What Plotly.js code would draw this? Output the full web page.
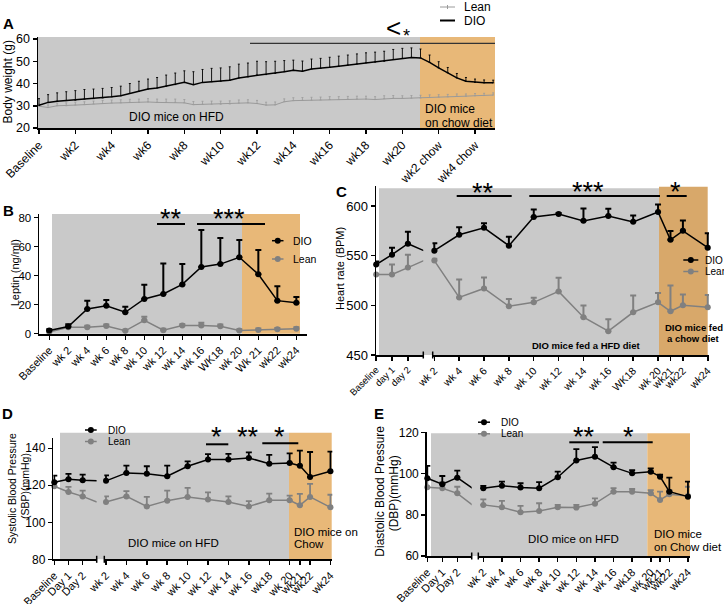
<!DOCTYPE html>
<html><head><meta charset="utf-8">
<script src="https://cdn.plot.ly/plotly-3.0.1.min.js"></script>
<style>html,body{margin:0;padding:0;background:#fff}#chart{width:724px;height:604px}</style>
</head><body><div id="chart"></div>
<script>
// ---------------- Panel A: body weight ----------------
const aWeek = [0,0.5,1,1.5,2,2.5,3,3.5,4,4.5,5,5.5,6,6.5,7,7.5,8,8.5,9,9.5,10,10.5,11,11.5,12,12.5,13,13.5,14,14.5,15,15.5,16,16.5,17,17.5,18,18.5,19,19.5,20,20.5,21,21.5,22,22.5,23,23.5,24,24.5,25];
const aDioMean = [30.2,31.5,32,32.3,32.5,33,33.2,33.5,34,34.5,35.5,36.5,37.5,38,38.8,39.5,40.5,39.5,40.5,40.8,41,41.5,42.5,43,43.8,44,44.5,45.3,46,45.5,46.5,46.8,47.3,47.8,48.3,48.8,49.3,49.6,50,50.8,51.3,51.7,51.5,49.5,47,44.8,42.5,41,40.5,40.3,40.3];
const aDioSem = [3,3.5,3.8,4,4.3,4.3,4.3,4.3,4.2,4.3,4.5,4.5,4.5,4.7,5,5.2,5.2,5.8,5.8,6,6,6,6.2,6.2,6.2,5.8,5.5,5,4.5,4.6,4.5,4.5,4.5,4.5,4.5,4.5,4.5,4.5,4.5,4.5,4.5,4.3,4,3.3,2.8,2.4,2,1.7,1.5,1.3,1.2];
const aLeanMean = [29.8,29.2,30,30,30.3,30.5,30.8,31,31.2,31.3,31.5,31.5,31.7,31.5,31.5,31.5,31.3,30.5,30.6,30.7,30.7,30.8,31.2,31.3,31,30.3,30.4,31.8,32.3,32.4,32.5,32.6,32.8,32.8,32.9,33,33,32.8,33.2,33.3,33.3,33.4,33.5,33.7,33.9,34,34.2,34.3,34.5,34.6,34.8];
const aLeanSem = [1,1.2,1.2,1.3,1.3,1.3,1.3,1.4,1.4,1.4,1.4,1.5,1.5,1.5,1.5,1.5,1.5,1.4,1.4,1.4,1.4,1.4,1.4,1.4,1.4,1.3,1.3,1.3,1.3,1.3,1.3,1.3,1.3,1.3,1.3,1.3,1.3,1.3,1.3,1.3,1.2,1.2,1.2,1.2,1.1,1.1,1.1,1,1,1,1];
const aTickWeek = [0,2,4,6,8,10,12,14,16,18,20,22,24];
const aTickText = ['Baseline','wk2','wk4','wk6','wk8','wk10','wk12','wk14','wk16','wk18','wk20','wk2 chow','wk4 chow'];

// ---------------- Panel B: leptin ----------------
const bCats = ['Baseline','wk 2','wk 4','wk 6','wk 8','wk 10','wk 12','wk 14','wk 16','WK18','wk 20','Wk 21','wk22','wk24'];
const bDio = [2.2,5,17,19.2,14.8,24,27.4,34,46,48,52.7,41,22.8,21.4];
const bDioErr = [0.8,1.5,5.8,4,3.8,9.8,21,14,25.5,18,12,16.7,10,4];
const bLean = [1.2,4.4,4.5,5.3,2,9.2,2.4,5.6,5.6,5.2,2.2,2.6,3,3.4];
const bLeanErr = [0.5,1,1,1,0.8,2.5,1,1,2,1.2,0.8,1,1,1];

// ---------------- Panel C: heart rate ----------------
const cEarlyCats = ['Baseline','day 1','day 2'];
const cWeeks = [2,4,6,8,10,12,14,16,18,20,21,22,24];
const cWeekText = ['wk 2','wk 4','wk 6','wk 8','wk 10','wk 12','wk 14','wk 16','WK18','wk 20','wk21','wk22','wk24'];
const cDioEarly = [541,551,562];
const cDioEarlyErr = [3,7,12];
const cDioWk = [555,571,578,560,589,592,585,590,584,594,566,575,558];
const cDioWkErr = [7.5,7.7,4.7,9,7.4,1,12.4,7.3,6.4,7.4,8.8,10.5,14.6];
const cLeanEarly = [531,531,538];
const cLeanEarlyErr = [0.5,10,13];
const cLeanWk = [545,508,517,499,503,514,488,474,493,503,494,500,498];
const cLeanWkErr = [2,18,11,7.4,4.7,13.8,11.7,12,16.8,9.3,26,11,12.4];

// ---------------- Panel D: systolic BP ----------------
const dEarlyCats = ['Baseline','Day 1','Day 2'];
const dWeeks = [2,4,6,8,10,12,14,16,18,20,21,22,24];
const dWeekText = ['wk 2','wk 4','wk 6','wk 8','wk 10','wk 12','wk 14','wk 16','wk18','wk 20','wk21','wk22','wk24'];
const dDioEarly = [121.6,123.3,122.7];
const dDioEarlyErr = [3.6,2.9,3.1];
const dDioWk = [122.4,126.7,126.3,124.9,130.3,133.9,133.9,134.8,131.7,132.1,130.6,124.5,127.6];
const dDioWkErr = [3,3.9,4,5.7,2.6,2.9,3.1,3,4.7,5.2,8.1,13.5,10.6];
const dLeanEarly = [119.5,116.4,114];
const dLeanEarlyErr = [2.1,2.7,3.1];
const dLeanWk = [111,114,108.6,111.7,113.7,112.3,111,108.6,111.9,111.9,109.2,113.7,108.1];
const dLeanWkErr = [3,2.8,5.1,5.4,4.9,3.9,3,2.8,3.6,2.5,6.2,7.1,6.8];

// ---------------- Panel E: diastolic BP ----------------
const eEarlyCats = ['Baseline','Day 1','Day 2'];
const eWeeks = [2,4,6,8,10,12,14,16,18,20,21,22,24];
const eWeekText = ['wk 2','wk 4','wk 6','wk 8','wk 10','wk 12','wk 14','wk 16','wk18','wk 20','wk21','wk22','wk24'];
const eDioEarly = [97.7,94.8,98];
const eDioEarlyErr = [6,4,3.4];
const eDioWk = [92.9,94.1,93.2,92.9,98.2,106.3,108.2,103.1,100.1,100.9,98.5,91.2,88.8];
const eDioWkErr = [1.1,2,2.1,2.9,2.7,5.5,4.6,2.2,1.6,1.6,1,6.8,7.3];
const eLeanEarly = [93.3,92.9,90.4];
const eLeanEarlyErr = [3.9,2.9,3.2];
const eLeanWk = [84.8,83.6,81.2,81.8,83.6,83.5,85.4,91.2,91.2,90.4,87.2,89.9,89.1];
const eLeanWkErr = [2.7,3.1,3.1,3.8,1.2,1.3,2.6,1.7,1.3,1.6,4,2.1,4.5];

// ================= drawing =================
const W = 724, H = 604;
const FONT = 'Arial, "Liberation Sans", Helvetica, sans-serif';
const BLACK = '#000000', GREY = '#808080', GREY_A = '#9a9a9a';
const BG_GREY = '#c9c9c9', BG_ORANGE = '#e8b878', BG_ORANGE_C = '#d8a86a';
const fx = x => x / W, fy = y => 1 - y / H;

function errUp(arr, color, th, w) {
  return {type:'data', symmetric:false, array:arr, arrayminus:arr.map(() => 0), color:color, thickness:th, width:w, visible:true};
}
function xAx(l, r, anchor, extra) {
  return Object.assign({domain:[fx(l), fx(r)], anchor:anchor, showline:true, linecolor:BLACK, linewidth:1.5,
    ticks:'outside', ticklen:4, tickwidth:1.5, tickcolor:BLACK, showgrid:false, zeroline:false,
    tickangle:-45, fixedrange:true, tickfont:{size:11, color:BLACK, family:FONT}}, extra);
}
function yAx(bottom, top, anchor, extra) {
  return Object.assign({domain:[fy(bottom), fy(top)], anchor:anchor, showline:true, linecolor:BLACK, linewidth:1.5,
    ticks:'outside', ticklen:4, tickwidth:1.5, tickcolor:BLACK, showgrid:false, zeroline:false,
    fixedrange:true, tickfont:{size:12, color:BLACK, family:FONT}}, extra);
}

const traces = [];
// Panel A
traces.push({x:aWeek, y:aLeanMean, xaxis:'x', yaxis:'y', mode:'lines', name:'Lean',
  line:{color:GREY_A, width:1}, error_y:errUp(aLeanSem, GREY_A, 0.8, 1)});
traces.push({x:aWeek, y:aDioMean, xaxis:'x', yaxis:'y', mode:'lines', name:'DIO',
  line:{color:BLACK, width:1.5}, error_y:errUp(aDioSem, BLACK, 0.9, 1)});
// Panel B
traces.push({x:bCats, y:bLean, xaxis:'x2', yaxis:'y2', mode:'lines+markers', name:'Lean', cliponaxis:false,
  line:{color:GREY, width:1.5}, marker:{color:GREY, size:6}, error_y:errUp(bLeanErr, GREY, 2, 3)});
traces.push({x:bCats, y:bDio, xaxis:'x2', yaxis:'y2', mode:'lines+markers', name:'DIO', cliponaxis:false,
  line:{color:BLACK, width:1.5}, marker:{color:BLACK, size:6}, error_y:errUp(bDioErr, BLACK, 2, 3)});

function broken(p) {
  const line = {color:p.color, width:1.5};
  const mk = {color:p.color, size:p.ms};
  return [
    {x:p.earlyCats.concat([p.weekText[0]]), y:p.early.concat([p.wk[0]]), xaxis:p.xa1, yaxis:p.ya,
     mode:'lines', line:line, name:p.name, hoverinfo:'skip'},
    {x:p.earlyCats, y:p.early, xaxis:p.xa1, yaxis:p.ya, mode:'markers', marker:mk, name:p.name,
     cliponaxis:false, error_y:errUp(p.earlyErr, p.color, p.th, p.ew)},
    {x:p.weeks, y:p.wk, xaxis:p.xa2, yaxis:p.ya, mode:'lines+markers', line:line, marker:mk, name:p.name,
     cliponaxis:false, error_y:errUp(p.wkErr, p.color, p.th, p.ew)}
  ];
}
// Panel C
traces.push(...broken({name:'Lean', color:GREY, early:cLeanEarly, earlyErr:cLeanEarlyErr, wk:cLeanWk, wkErr:cLeanWkErr,
  earlyCats:cEarlyCats, weeks:cWeeks, weekText:cWeekText, xa1:'x3', xa2:'x4', ya:'y3', ms:6, th:2, ew:3}));
traces.push(...broken({name:'DIO', color:BLACK, early:cDioEarly, earlyErr:cDioEarlyErr, wk:cDioWk, wkErr:cDioWkErr,
  earlyCats:cEarlyCats, weeks:cWeeks, weekText:cWeekText, xa1:'x3', xa2:'x4', ya:'y3', ms:6, th:2, ew:3}));
// Panel D
traces.push(...broken({name:'Lean', color:GREY, early:dLeanEarly, earlyErr:dLeanEarlyErr, wk:dLeanWk, wkErr:dLeanWkErr,
  earlyCats:dEarlyCats, weeks:dWeeks, weekText:dWeekText, xa1:'x5', xa2:'x6', ya:'y4', ms:6, th:1.8, ew:3}));
traces.push(...broken({name:'DIO', color:BLACK, early:dDioEarly, earlyErr:dDioEarlyErr, wk:dDioWk, wkErr:dDioWkErr,
  earlyCats:dEarlyCats, weeks:dWeeks, weekText:dWeekText, xa1:'x5', xa2:'x6', ya:'y4', ms:6, th:1.8, ew:3}));
// Panel E
traces.push(...broken({name:'Lean', color:GREY, early:eLeanEarly, earlyErr:eLeanEarlyErr, wk:eLeanWk, wkErr:eLeanWkErr,
  earlyCats:eEarlyCats, weeks:eWeeks, weekText:eWeekText, xa1:'x7', xa2:'x8', ya:'y5', ms:6, th:1.8, ew:3}));
traces.push(...broken({name:'DIO', color:BLACK, early:eDioEarly, earlyErr:eDioEarlyErr, wk:eDioWk, wkErr:eDioWkErr,
  earlyCats:eEarlyCats, weeks:eWeeks, weekText:eWeekText, xa1:'x7', xa2:'x8', ya:'y5', ms:6, th:1.8, ew:3}));

// shapes
const shapes = [];
function rect(x0, y0, x1, y1, fill) {
  shapes.push({type:'rect', xref:'paper', yref:'paper', x0:fx(x0), x1:fx(x1), y0:fy(y1), y1:fy(y0),
    fillcolor:fill, line:{width:0}, layer:'below'});
}
function seg(x0, y0, x1, y1, color, width) {
  shapes.push({type:'line', xref:'paper', yref:'paper', x0:fx(x0), x1:fx(x1), y0:fy(y0), y1:fy(y1),
    line:{color:color, width:width}, layer:'above'});
}
function dot(cx, cy, r, color) {
  shapes.push({type:'circle', xref:'paper', yref:'paper', x0:fx(cx - r), x1:fx(cx + r), y0:fy(cy + r), y1:fy(cy - r),
    fillcolor:color, line:{width:0}, layer:'above'});
}
// backgrounds
rect(38, 37, 420, 128, BG_GREY);   rect(420, 37, 495, 128, BG_ORANGE);
rect(52, 214, 242, 333.7, BG_GREY); rect(242, 214, 300, 333.7, BG_ORANGE);
rect(379, 188.3, 659, 355, BG_GREY); rect(659, 186.7, 707.7, 355, BG_ORANGE_C);
rect(60, 432.7, 289, 559.3, BG_GREY); rect(289, 432.7, 331.7, 559.3, BG_ORANGE);
rect(431, 433.3, 647.3, 556, BG_GREY); rect(647.3, 433.3, 690, 556, BG_ORANGE);
// significance bars
seg(250, 43.3, 495, 43.3, '#333333', 1.2);
seg(157, 224, 185, 224, BLACK, 2); seg(197, 224, 265, 224, BLACK, 2);
seg(456.7, 196, 511.7, 196, BLACK, 2); seg(529.3, 196, 660, 196, BLACK, 2); seg(666.7, 196, 686.7, 196, BLACK, 2);
seg(206, 444.3, 228.3, 444.3, BLACK, 2); seg(262.3, 443.3, 298.3, 443.3, BLACK, 2);
seg(569.3, 442.3, 599, 442.3, BLACK, 2); seg(602.7, 442.3, 652.7, 442.3, BLACK, 2);
// axis break marks
seg(423.3, 351.5, 423.3, 358.5, BLACK, 1.5); seg(432.7, 351.5, 432.7, 358.5, BLACK, 1.5);
seg(96.7, 555.8, 96.7, 562.8, BLACK, 1.5); seg(104.3, 555.8, 104.3, 562.8, BLACK, 1.5);
seg(471.7, 552.5, 471.7, 559.5, BLACK, 1.5); seg(478.3, 552.5, 478.3, 559.5, BLACK, 1.5);

// annotations
const ann = [];
function txt(text, x, y, size, opts) {
  opts = opts || {};
  ann.push({text:text, x:fx(x), y:fy(y), xref:'paper', yref:'paper', showarrow:false,
    xanchor:opts.xanchor || 'center', yanchor:'middle', textangle:opts.angle || 0,
    font:{size:size, color:BLACK, family:FONT}});
}
function stars(text, x, glyphY, size) { txt(text, x, glyphY + 0.23 * size, size); }
// legends (manual)
function legItem(x0, x1, y, color, label, tx, size, withDot, lw) {
  seg(x0, y, x1, y, color, lw || 1.5);
  if (withDot) dot((x0 + x1) / 2, y, 3, color);
  txt(label, tx, y, size, {xanchor:'left'});
}
// Panel A legend
legItem(440, 455, 7, GREY_A, 'Lean', 461.7, 12, false, 1);
seg(447.5, 5, 447.5, 9, GREY_A, 1);
legItem(440, 455, 20.5, BLACK, 'DIO', 461.7, 12, false, 2);
// B
legItem(272, 283.5, 240.7, BLACK, 'DIO', 291, 10.5, true);
legItem(272, 283.5, 259, GREY, 'Lean', 291, 10.5, true);
// C
legItem(683.3, 698.3, 260, BLACK, 'DIO', 702.7, 10, true);
legItem(683.3, 698.3, 271.5, GREY, 'Lean', 702.7, 10, true);
// D
legItem(85, 96.7, 430, BLACK, 'DIO', 106, 10, true);
legItem(85, 96.7, 441.5, GREY, 'Lean', 106, 10, true);
// E
legItem(478, 490, 422.2, BLACK, 'DIO', 499.3, 10, true);
legItem(478, 490, 433.8, GREY, 'Lean', 499.3, 10, true);

// panel letters
function letter(l, x, y) { ann.push({text:'<b>' + l + '</b>', x:fx(x), y:fy(y), xref:'paper', yref:'paper', showarrow:false,
  xanchor:'center', yanchor:'middle', font:{size:15, color:BLACK, family:FONT}}); }
letter('A', 8.3, 23.5); letter('B', 8, 210.5); letter('C', 341.5, 191); letter('D', 7.5, 413); letter('E', 379, 413);

// y-axis titles
txt('Body weight (g)', 7, 82.5, 12, {angle:-90});
txt('Leptin (ng/ml)', 15, 273.3, 11, {angle:-90});
txt('Heart rate (BPM)', 340, 269, 11, {angle:-90});
txt('Systolic Blood Pressure', 12, 489, 10.5, {angle:-90});
txt('(SBP)(mmHg)', 25, 486, 10.5, {angle:-90});
txt('Diastolic Blood Pressure', 380, 491.7, 12, {angle:-90});
txt('(DBP)(mmHg)', 394, 493.3, 12, {angle:-90});

// diet labels
txt('DIO mice on HFD', 176.7, 117.3, 12);
txt('DIO mice', 423.3, 108.7, 12, {xanchor:'left'});
txt('on chow diet', 423.3, 123.3, 12, {xanchor:'left'});
txt('<b>DIO mice fed a HFD diet</b>', 586, 345, 9.5);
txt('<b>DIO mice fed</b>', 693.5, 327, 9.5);
txt('<b>a chow diet</b>', 693.5, 338.3, 9.5);
txt('DIO mice on HFD', 173, 542.7, 11.5);
txt('DIO mice on', 291.7, 531.7, 11.5, {xanchor:'left'});
txt('Chow', 291.7, 544, 11.5, {xanchor:'left'});
txt('DIO mice on HFD', 573.5, 539, 11.5);
txt('DIO mice', 651.7, 534, 11.5, {xanchor:'left'});
txt('on Chow diet', 651.7, 547.3, 11.5, {xanchor:'left'});

// significance symbols
txt('<', 393.3, 28.3, 26);
stars('*', 406.3, 31.7, 18);
stars('**', 171, 212.3, 27); stars('***', 229, 212.3, 27);
stars('**', 483, 186.7, 27); stars('***', 588, 185.8, 27); stars('*', 675.3, 186, 27);
stars('*', 216.7, 430.5, 27); stars('**', 248, 430.5, 27); stars('*', 279.5, 430.5, 27);
stars('**', 583.7, 431, 27); stars('*', 628, 431, 27);

const layout = {
  width:W, height:H, margin:{l:0, r:0, t:0, b:0}, autosize:false, showlegend:false,
  paper_bgcolor:'#ffffff', plot_bgcolor:'rgba(0,0,0,0)', font:{family:FONT, color:BLACK},
  // A
  xaxis: xAx(38, 495, 'y', {type:'linear', range:[-0.055, 25.1], tickmode:'array', tickvals:aTickWeek, ticktext:aTickText,
    tickfont:{size:12, color:BLACK, family:FONT}}),
  yaxis: yAx(128, 37, 'x', {range:[20, 60.9], tickmode:'array', tickvals:[20,30,40,50,60], tickfont:{size:12.5, color:BLACK, family:FONT}}),
  // B
  xaxis2: xAx(39, 307, 'y2', {type:'category', categoryorder:'array', categoryarray:bCats, range:[-0.54, 13.56],
    tickmode:'array', tickvals:bCats, ticktext:bCats}),
  yaxis2: yAx(334, 214, 'x2', {range:[-0.2, 82.55], tickmode:'array', tickvals:[0,20,40,60,80], tickfont:{size:11.5, color:BLACK, family:FONT}}),
  // C
  xaxis3: xAx(376, 423.3, 'y3', {type:'category', categoryorder:'array', categoryarray:cEarlyCats.concat([cWeekText[0]]),
    range:[-0.01, 2.97], tickmode:'array', tickvals:cEarlyCats, ticktext:cEarlyCats, tickfont:{size:9.5, color:BLACK, family:FONT}}),
  xaxis4: xAx(432.5, 709, 'y3', {type:'linear', range:[1.855, 24.1], tickmode:'array', tickvals:cWeeks, ticktext:cWeekText,
    tickfont:{size:10.5, color:BLACK, family:FONT}}),
  yaxis3: yAx(355, 186, 'x3', {range:[450, 620.1], tickmode:'array', tickvals:[450,500,550,600], tickfont:{size:13, color:BLACK, family:FONT}}),
  // D
  xaxis5: xAx(53.3, 96.7, 'y4', {type:'category', categoryorder:'array', categoryarray:dEarlyCats.concat([dWeekText[0]]),
    range:[-0.07, 2.99], tickmode:'array', tickvals:dEarlyCats, ticktext:dEarlyCats}),
  xaxis6: xAx(104.3, 332.3, 'y4', {type:'linear', range:[1.833, 24.18], tickmode:'array', tickvals:dWeeks, ticktext:dWeekText}),
  yaxis4: yAx(559.3, 438.3, 'x5', {range:[80, 145.4], tickmode:'array', tickvals:[80,100,120,140]}),
  // E
  xaxis7: xAx(426.7, 471.7, 'y5', {type:'category', categoryorder:'array', categoryarray:eEarlyCats.concat([eWeekText[0]]),
    range:[-0.04, 2.96], tickmode:'array', tickvals:eEarlyCats, ticktext:eEarlyCats}),
  xaxis8: xAx(478.3, 690, 'y5', {type:'linear', range:[1.46, 24.22], tickmode:'array', tickvals:eWeeks, ticktext:eWeekText}),
  yaxis5: yAx(556, 431.7, 'x7', {range:[60, 120.3], tickmode:'array', tickvals:[60,80,100,120]}),
  shapes:shapes, annotations:ann
};

Plotly.newPlot('chart', traces, layout, {staticPlot:true, displayModeBar:false});
</script>
</body></html>
